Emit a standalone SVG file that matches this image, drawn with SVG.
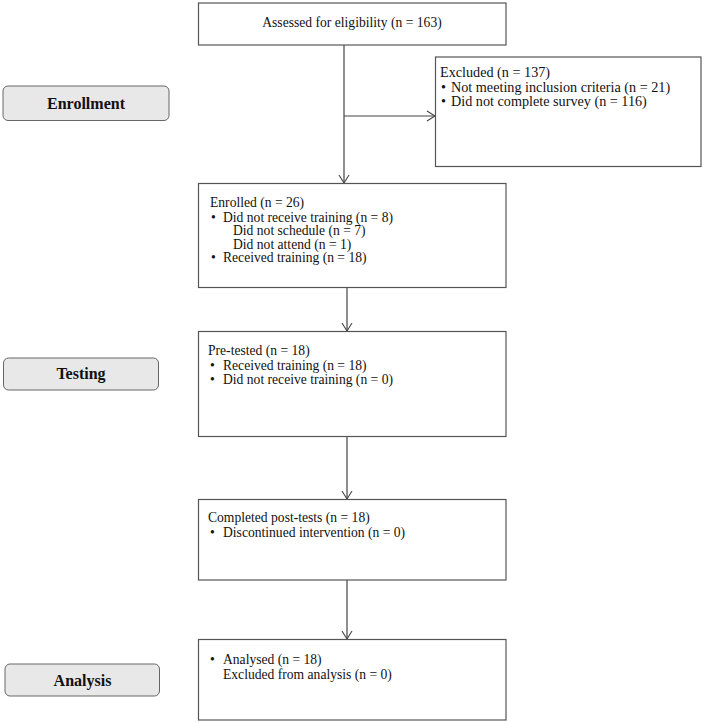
<svg xmlns="http://www.w3.org/2000/svg" width="704" height="723" viewBox="0 0 704 723">
  <style>
    .box { fill: #ffffff; stroke: #555555; stroke-width: 1.2; }
    .stage { fill: #e8e8e8; stroke: #666666; stroke-width: 1; }
    .txt { font-family: "Liberation Serif", "Times New Roman", serif; font-size: 13.6px; fill: #111111; }
    .big { font-size: 14.2px; }
    .stage-txt { font-family: "Liberation Serif", "Times New Roman", serif; font-size: 16px; font-weight: bold; fill: #111111; text-anchor: middle; }
    .link { fill: none; stroke: #444444; stroke-width: 1.2; }
  </style>
  <defs>
    <marker id="vhead" markerUnits="userSpaceOnUse" markerWidth="12" markerHeight="14" refX="9" refY="6" orient="auto">
      <path d="M1,1 L9,6 L1,11" fill="none" stroke="#444444" stroke-width="1.1"/>
    </marker>
  </defs>
  <rect width="704" height="723" fill="#ffffff"/>

  <!-- stage labels -->
  <g id="stage-enrollment">
    <rect class="stage" x="3" y="86" width="166" height="34.5" rx="5"/>
    <text class="stage-txt" x="86" y="109">Enrollment</text>
  </g>
  <g id="stage-testing">
    <rect class="stage" x="3.5" y="358" width="155" height="32" rx="5"/>
    <text class="stage-txt" x="81" y="379">Testing</text>
  </g>
  <g id="stage-analysis">
    <rect class="stage" x="5" y="664" width="154.5" height="32" rx="5"/>
    <text class="stage-txt" x="82.5" y="686">Analysis</text>
  </g>

  <!-- connectors -->
  <g id="connectors">
    <path class="link" d="M344,45 V183" marker-end="url(#vhead)"/>
    <path class="link" d="M344,116 H435" marker-end="url(#vhead)"/>
    <path class="link" d="M347,288 V331" marker-end="url(#vhead)"/>
    <path class="link" d="M347,437 V499" marker-end="url(#vhead)"/>
    <path class="link" d="M347,580 V639" marker-end="url(#vhead)"/>
  </g>

  <g id="assessed">
    <rect class="box" x="198.5" y="3" width="307.5" height="42"/>
    <text class="txt" x="352" y="26.5" text-anchor="middle">Assessed for eligibility (n = 163)</text>
  </g>

  <g id="excluded">
    <rect class="box" x="435.5" y="57" width="265.5" height="109.5"/>
    <text class="txt big" x="440" y="77">Excluded (n = 137)</text>
    <text class="txt big" x="441" y="91.5">•<tspan x="451">Not meeting inclusion criteria (n = 21)</tspan></text>
    <text class="txt big" x="441" y="106">•<tspan x="451">Did not complete survey (n = 116)</tspan></text>
  </g>

  <g id="enrolled">
    <rect class="box" x="198.5" y="183.5" width="307.5" height="104"/>
    <text class="txt" x="210" y="206.5">Enrolled (n = 26)</text>
    <text class="txt" x="211" y="221.5">•<tspan x="223">Did not receive training (n = 8)</tspan></text>
    <text class="txt" x="233" y="235">Did not schedule (n = 7)</text>
    <text class="txt" x="233" y="248.5">Did not attend (n = 1)</text>
    <text class="txt" x="211" y="262">•<tspan x="223">Received training (n = 18)</tspan></text>
  </g>

  <g id="pretested">
    <rect class="box" x="198.5" y="331.5" width="307.5" height="105"/>
    <text class="txt" x="208" y="355">Pre-tested (n = 18)</text>
    <text class="txt" x="210" y="369.5">•<tspan x="223">Received training (n = 18)</tspan></text>
    <text class="txt" x="210" y="383.5">•<tspan x="223">Did not receive training (n = 0)</tspan></text>
  </g>

  <g id="posttests">
    <rect class="box" x="198.5" y="499.5" width="307.5" height="80.5"/>
    <text class="txt" x="208" y="522">Completed post-tests (n = 18)</text>
    <text class="txt" x="210" y="537">•<tspan x="223">Discontinued intervention (n = 0)</tspan></text>
  </g>

  <g id="analysed">
    <rect class="box" x="198.5" y="639.5" width="307.5" height="80.5"/>
    <text class="txt" x="210" y="663.5">•<tspan x="223">Analysed (n = 18)</tspan></text>
    <text class="txt" x="223" y="678.5">Excluded from analysis (n = 0)</text>
  </g>
</svg>
